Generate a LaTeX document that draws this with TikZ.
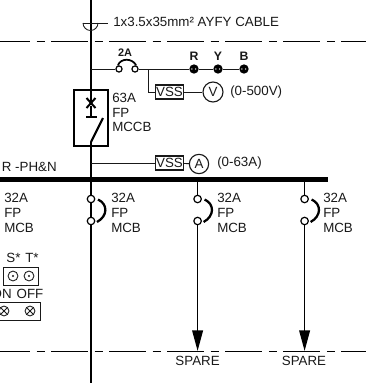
\documentclass[tikz,border=0pt]{standalone}
\usepackage{fontspec}
\setmainfont{Liberation Sans}
\usetikzlibrary{arrows.meta}
\definecolor{ink}{gray}{0.1}
\tikzset{
 lbl/.style={inner sep=0pt,anchor=west,font=\fontsize{10}{11}\selectfont,text=ink},
 tag/.style={inner sep=0pt,font=\fontsize{8.2}{10}\selectfont\bfseries,text=ink},
 thinl/.style={draw=ink,line width=0.65pt},
 mainl/.style={draw=black,line width=1.05pt},
 thickl/.style={draw=black,line width=2.1pt},
 dashl/.style={draw=black,line width=0.7pt,dash pattern=on 27.75pt off 4.9pt on 6pt off 4.9pt,dash phase=5.25pt},
 vss/.style={draw=ink,line width=0.9pt,minimum width=20.5pt,minimum height=10.5pt,inner sep=0pt,font=\fontsize{10}{11}\selectfont,text=ink},
 meter/.style={circle,draw=ink,line width=0.85pt,inner sep=0pt,font=\fontsize{10}{11}\selectfont,text=ink},
 term/.style={circle,draw=black,line width=0.9pt,fill=white,minimum size=5.6pt,inner sep=0pt},
 fterm/.style={circle,draw=black,line width=0.9pt,fill=white,minimum size=4.6pt,inner sep=0pt},
 lamp/.style={circle,fill=black,minimum size=7pt,inner sep=0pt},
 panel/.style={draw=ink,line width=0.6pt}
}
\newcommand{\mcb}[3]{% x, name, label x
 \node[term] (#2a) at (#1,199) {};
 \node[term] (#2b) at (#1,221) {};
 \draw[thickl,line width=1.7pt] (#1+7,199.5) .. controls (#1+17,204) and (#1+17,216) .. (#1+6,222);
 \node[lbl] (#2t1) at (#3,197.5) {32A};
 \node[lbl] (#2t2) at (#3,212.5) {FP};
 \node[lbl] (#2t3) at (#3,228) {MCB};
}
\begin{document}
\begin{tikzpicture}[x=0.75pt,y=-0.75pt]
\useasboundingbox (0,0) rectangle (366,383);
\begin{scope}
\clip (0,0) rectangle (366,383);
% dashed boundaries
\coordinate (tl) at (0,41); \coordinate (tr) at (366,41);
\coordinate (bl) at (0,351); \coordinate (br) at (366,351);
\draw[dashl] (tl) -- (tr);
\draw[dashl] (bl) -- (br);
% main riser
\coordinate (top) at (91,0); \coordinate (t1) at (91,76); \coordinate (t2) at (91,103);
\coordinate (t3) at (91,142); \coordinate (t4) at (91,163); \coordinate (bot) at (91,383);
\draw[mainl] (top) -- (t1);
\draw[thickl] (t1) -- (t2);
\draw[thickl] (t3) -- (t4);
\draw[mainl] (t4) -- (bot);
% cable gland
\coordinate (gl) at (83,23); \coordinate (gr) at (108,23);
\draw[thinl] (gl) -- (gr);
\draw[thinl] (83,23) arc[start angle=180,end angle=0,radius=7.5];
\node[lbl] (cable) at (113,22) {1x3.5x35mm² AYFY CABLE};
% MCCB
\node[draw=black,line width=0.8pt,minimum width=25.5pt,minimum height=42pt,inner sep=0pt] (mccb) at (91,118) {};
\coordinate (x1) at (86.5,98); \coordinate (x2) at (95.5,108);
\coordinate (x3) at (95.5,98); \coordinate (x4) at (86.5,108);
\draw[thickl,line width=1.5pt] (x1) -- (x2);
\draw[thickl,line width=1.5pt] (x3) -- (x4);
\draw[mainl] (91,106) -- (91,116);
\draw[thickl,line width=1.5pt] (86,117) -- (97,117);
\draw[thickl,line width=1.6pt] (t3) -- (103,118);
\node[lbl] (m1) at (112,98) {63A};
\node[lbl] (m2) at (112,112.5) {FP};
\node[lbl] (m3) at (112,127) {MCCB};
% voltmeter branch
\node[fterm] (f1) at (119,69) {};
\node[fterm] (f2) at (135,69) {};
\draw[thickl,line width=1.3pt,line cap=round] (118,65) .. controls (121,58) and (132,58) .. (136,65);
\node[tag] (fl) at (125,53) {2A};
\node[lamp] (lr) at (194,69) {};
\node[lamp] (ly) at (218,69) {};
\node[lamp] (lb) at (244,69) {};
\foreach \n in {lr,ly,lb}{\fill[white] ([xshift=-1.6pt]\n.center) circle (0.55pt); \fill[white] ([xshift=1.2pt]\n.center) circle (0.55pt);}
\node[tag,font=\fontsize{9.2}{10}\selectfont\bfseries] (rt) at (194,56) {R};
\node[tag,font=\fontsize{9.2}{10}\selectfont\bfseries] (yt) at (218,56) {Y};
\node[tag,font=\fontsize{9.2}{10}\selectfont\bfseries] (bt) at (244,56) {B};
\draw[thinl] (91,69) -- (f1);
\draw[thinl] (f2) -- (lr);
\draw[thinl] (lr) -- (ly);
\draw[thinl] (ly) -- (lb);
\node[vss] (v1) at (169.5,92) {VSS};
\node[meter,minimum size=15pt] (vm) at (213,92) {V};
\coordinate (vd) at (148,69);
\draw[thinl] (vd) |- (v1);
\draw[thinl] (v1) -- (vm);
\node[lbl] (vt) at (230,92) {(0-500V)};
% ammeter branch
\node[vss] (v2) at (169.5,163) {VSS};
\node[meter,minimum size=14.5pt] (am) at (199,164) {A};
\coordinate (ad) at (91,163);
\draw[thinl] (ad) -- (v2);
\draw[thinl] (v2) -- (am);
\node[lbl] (at) at (217,163) {(0-63A)};
% bus
\coordinate (b0) at (0,179.5); \coordinate (b1) at (328,179.5);
\draw[draw=black,line width=3.9pt] (b0) -- (b1);
\node[lbl,anchor=east] (bl2) at (57,167) {R -PH\&N};
% breakers
\mcb{91}{ma}{111}
\mcb{197.6}{mb}{217}
\mcb{304.6}{mc}{323}
\node[lbl] (l1) at (4,197.5) {32A};
\node[lbl] (l2) at (4,212.5) {FP};
\node[lbl] (l3) at (4,228) {MCB};
\coordinate (bb) at (197.6,182); \coordinate (bc) at (304.6,182);
\coordinate (sb) at (197.6,351); \coordinate (sc) at (304.6,351);
\draw[mainl] (bb) -- (mba);
\draw[mainl] (bc) -- (mca);
\draw[mainl,line width=1.3pt,-{Triangle[length=15.5pt,width=8pt]}] (mbb) -- (sb);
\draw[mainl,line width=1.3pt,-{Triangle[length=15.5pt,width=8pt]}] (mcb) -- (sc);
\node[lbl,anchor=center] (s1) at (197.6,361) {SPARE};
\node[lbl,anchor=center] (s2) at (304,361) {SPARE};
% indications
\node[lbl,anchor=center] (st) at (13.5,258) {S*};
\node[lbl,anchor=center] (tt) at (32,258) {T*};
\draw[panel] (3.7,267) rectangle (38,285);
\foreach \x in {13,29}{\draw[thinl] (\x,276) circle (3.7pt); \fill[ink] (\x,276) circle (0.8pt);}
\node[lbl,anchor=east] (on) at (12,294) {ON};
\node[lbl,anchor=center] (off) at (30,294) {OFF};
\draw[panel] (-5,302) rectangle (40,320);
\foreach \x in {4,30}{\draw[thinl] (\x,311) circle (3.7pt);
 \draw[thinl] (\x-3.5,311-3.5) -- (\x+3.5,311+3.5); \draw[thinl] (\x-3.5,311+3.5) -- (\x+3.5,311-3.5);}
\end{scope}
\end{tikzpicture}
\end{document}
